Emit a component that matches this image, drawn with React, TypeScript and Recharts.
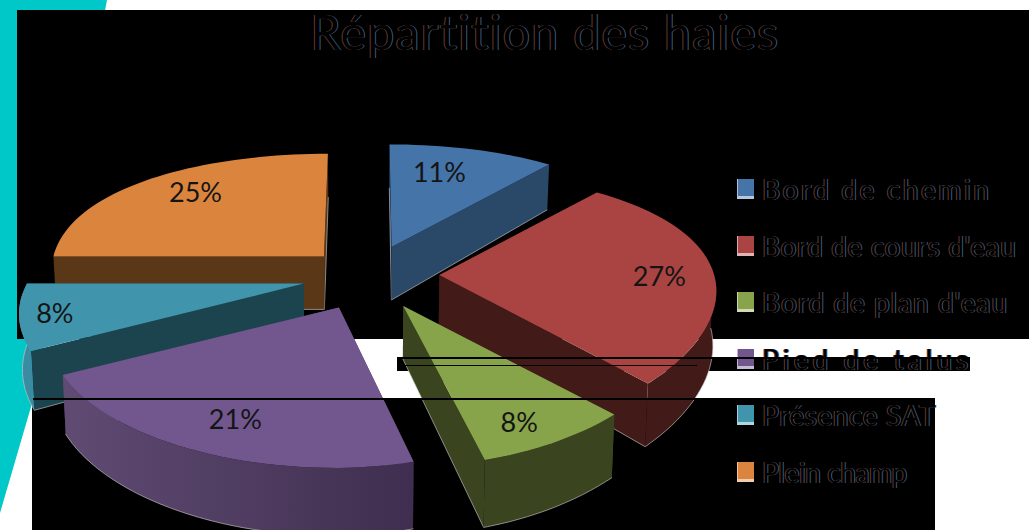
import React from 'react';
import { PieChart, Pie, Legend } from 'recharts';

const categories = ['Bord de chemin', "Bord de cours d'eau", "Bord de plan d'eau", 'Pied de talus', 'Présence SAT', 'Plein champ'];
const shares = [11, 27, 8, 21, 8, 25];
const explode = [0.26, 0.26, 0.26, 0.26, 0.24, 0.23];
const labelRadii = [0.72, 0.8, 0.85, 0.8, 0.88, 0.78];
const labelTurns = [-4, 2, 3, -1, 0, 4];
const legendSpacing = [2.6, 0.6, 1, 4.1, 0.6, -0.4];
const topColors = ['#4574a9', '#a94442', '#87a44a', '#72578e', '#4095ad', '#db843d'];
const wallColors = ['#2a4868', '#421a18', '#3a451f', '#473658', '#1c444f', '#5a3717'];
const rimStart = ['#2a4868', '#421a18', '#3a451f', '#604b73', '#3a8ca3', '#5a3717'];
const rimEnd = ['#2a4868', '#421a18', '#3a451f', '#3f2e4f', '#3a8ca3', '#5a3717'];
// back slices first so the front ones overlap them
const drawOrder = [5, 0, 4, 1, 3, 2];

const rows = categories.map((name, i) => ({ name, value: shares[i] }));

const TILT = 0.455;
const PERSPECTIVE_Y = 0.22;
const PERSPECTIVE_X = 0.1;
const LEFT_FRONT_FLARE = 0.12;
const DEPTH = 53;
const RAD = Math.PI / 180;

type Pt = { x: number; y: number; s: number };

// theta is clockwise from 12 o'clock, r is a fraction of the radius
function place(cx: number, cy: number, radius: number, i: number, mid: number, theta: number, r: number) {
  const ox = explode[i] * Math.sin(mid * RAD);
  const oz = explode[i] * Math.cos(mid * RAD);
  const gx = r * Math.sin(theta * RAD);
  const gz = r * Math.cos(theta * RAD);
  const s = 1 / (1 + PERSPECTIVE_Y * gz);
  const flare = gx < 0 && gz < 0 ? 1 - LEFT_FRONT_FLARE * gz : 1;
  // x converges on the pie centre as a whole, y is taken from the slice's own tip
  const x = ((ox + gx * flare) * radius) / (1 + PERSPECTIVE_X * (oz + gz));
  const tipY = (-oz * radius * TILT) / (1 + PERSPECTIVE_Y * oz);
  const y = -gz * radius * TILT * s + tipY;
  return { x: cx + x, y: cy + y, s };
}

function topPoint(cx: number, cy: number, radius: number, i: number, mid: number, theta: number, r: number): Pt {
  return place(cx, cy, radius, i, mid, theta, r);
}

function floorPoint(cx: number, cy: number, radius: number, i: number, mid: number, theta: number, r: number): Pt {
  const p = place(cx, cy, radius, i, mid, theta, r);
  return { x: cx + (p.x - cx) * 0.99, y: p.y + DEPTH * p.s, s: p.s };
}

function toPath(points: Pt[], close = true) {
  const d = points.map((p, i) => `${i ? 'L' : 'M'}${p.x.toFixed(1)},${p.y.toFixed(1)}`).join(' ');
  return close ? d + ' Z' : d;
}

function arcAngles(from: number, to: number) {
  const out: number[] = [];
  for (let t = from; t < to; t += 2) out.push(t);
  out.push(to);
  return out;
}

function Slice({ props, i }: { props: any; i: number }) {
  const { cx, cy, outerRadius: radius, startAngle, endAngle } = props;
  const a0 = 90 - startAngle;
  const a1 = 90 - endAngle;
  const mid = (a0 + a1) / 2;
  const top = (t: number, r = 1) => topPoint(cx, cy, radius, i, mid, t, r);
  const floor = (t: number, r = 1) => floorPoint(cx, cy, radius, i, mid, t, r);

  const radial = (t: number) => (
    <g key={t}>
      <path d={toPath([top(t, 0), top(t), floor(t), floor(t, 0)])} fill={wallColors[i]} />
      <path d={toPath([floor(t, 0), floor(t)], false)} stroke="#c4c4c4" strokeOpacity={0.65} fill="none" />
    </g>
  );

  // the wall further back goes down first
  const radialWalls = [a0, a1].sort((p, q) => Math.cos(q * RAD) - Math.cos(p * RAD));

  // only the part of the rim that faces the viewer
  const rimFrom = Math.max(a0, 90);
  const rimTo = Math.min(a1, 270);
  const rim = rimFrom < rimTo ? arcAngles(rimFrom, rimTo) : [];
  const gradientId = `rim-${i}`;

  return (
    <g>
      {radialWalls.map(radial)}
      {rim.length > 0 && (
        <>
          <defs>
            <linearGradient id={gradientId} x1="0" y1="0" x2="1" y2="0">
              <stop offset="0%" stopColor={rimStart[i]} />
              <stop offset="100%" stopColor={rimEnd[i]} />
            </linearGradient>
          </defs>
          <path
            d={toPath([...rim.map((t) => top(t)), ...rim.slice().reverse().map((t) => floor(t))])}
            fill={`url(#${gradientId})`}
          />
          <path d={toPath(rim.map((t) => floor(t)), false)} stroke="#c4c4c4" strokeOpacity={0.65} fill="none" />
        </>
      )}
      <path d={toPath([top(a0, 0), ...arcAngles(a0, a1).map((t) => top(t))])} fill={topColors[i]} />
    </g>
  );
}

function SliceLabel({ props, i }: { props: any; i: number }) {
  const { cx, cy, outerRadius: radius, midAngle } = props;
  const mid = 90 - midAngle;
  const p = topPoint(cx, cy, radius, i, mid, mid + labelTurns[i], labelRadii[i]);
  return (
    <text x={p.x} y={p.y} textAnchor="middle" dominantBaseline="central" fontFamily="Lato" fontSize={27} fill="#141414">
      {shares[i]}%
    </text>
  );
}

const fringe = '-1px 0 #64392b, 1px 0 #38597c';

function LegendRows() {
  return (
    <div>
      {categories.map((name, i) => (
        <div key={name} style={{ display: 'flex', alignItems: 'center', height: 56.5 }}>
          <span
            style={{
              width: 17,
              height: 20,
              background: topColors[i],
              borderLeft: '1px solid rgba(255,255,255,0.55)',
              borderBottom: '3px solid rgba(255,255,255,0.6)',
              boxSizing: 'border-box',
              marginRight: 8,
              flex: 'none',
            }}
          />
          <span
            style={{
              fontFamily: 'Lato',
              fontSize: 28,
              letterSpacing: legendSpacing[i],
              color: '#000',
              whiteSpace: 'nowrap',
              textShadow: fringe,
            }}
          >
            {name}
          </span>
        </div>
      ))}
    </div>
  );
}

const block = (left: number, top: number, width: number, height: number, background = '#000'): React.CSSProperties => ({
  position: 'absolute',
  left,
  top,
  width,
  height,
  background,
});

export default function App() {
  return (
    <div style={{ position: 'fixed', left: 0, top: 0, width: 1029, height: 530, overflow: 'hidden', background: '#fff' }}>
      <svg width={1029} height={530} style={{ position: 'absolute', left: 0, top: 0 }}>
        <polygon points="0,0 107,0 33,400 0,513" fill="#00c8c8" />
      </svg>
      <div style={block(17, 10, 1012, 329)} />
      <div style={block(32, 400, 903, 130)} />
      <div style={block(397, 357, 573, 14)} />

      <div style={{ position: 'absolute', left: 0, top: 0 }}>
        <PieChart width={1029} height={530} margin={{ top: 0, right: 0, bottom: 0, left: 0 }}>
          {drawOrder.map((i) => (
            <Pie
              key={i}
              data={rows}
              dataKey="value"
              nameKey="name"
              cx={368}
              cy={276}
              outerRadius={275}
              startAngle={90}
              endAngle={-270}
              stroke="none"
              isAnimationActive={false}
              labelLine={false}
              legendType="none"
              shape={(p: any) => (p.name === categories[i] ? <Slice props={p} i={i} /> : <g />)}
              label={(p: any) => (p.name === categories[i] ? <SliceLabel props={p} i={i} /> : <g />)}
            />
          ))}
          <Legend
            layout="vertical"
            content={() => <LegendRows />}
            wrapperStyle={{ position: 'absolute', left: 737, top: 161, width: 292, bottom: 'auto' }}
          />
        </PieChart>
      </div>

      <div style={block(397, 357, 573, 2)} />
      <div style={block(397, 365, 300, 1)} />
      <div style={block(397, 357, 3, 14)} />
      <div style={block(33, 398, 902, 2)} />

      <div
        style={{
          position: 'absolute',
          left: 0,
          top: 3,
          width: 1090,
          textAlign: 'center',
          fontFamily: 'Lato',
          fontSize: 48,
          letterSpacing: 1.4,
          color: '#000',
          whiteSpace: 'nowrap',
          textShadow: fringe,
        }}
      >
        Répartition des haies
      </div>
    </div>
  );
}
